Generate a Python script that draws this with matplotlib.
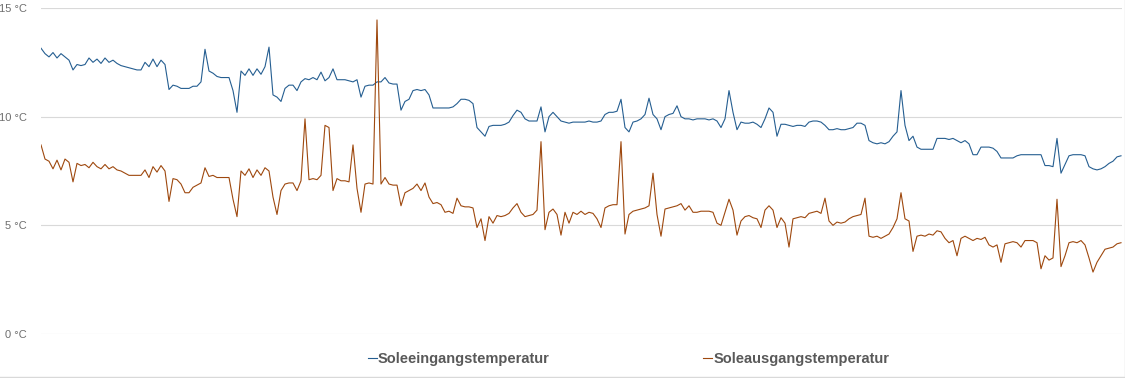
import numpy as np
import matplotlib.pyplot as plt
import matplotlib as mpl
from matplotlib.lines import Line2D

mpl.rcParams['font.family'] = ['Liberation Sans', 'DejaVu Sans']

# brine temperatures, one reading per sample step
soleein = [
    13.15, 12.9, 12.75, 12.95, 12.7, 12.9, 12.75, 12.6, 12.15, 12.4,
    12.35, 12.4, 12.7, 12.5, 12.65, 12.45, 12.7, 12.5, 12.6, 12.45,
    12.35, 12.3, 12.25, 12.2, 12.15, 12.15, 12.5, 12.3, 12.65, 12.3,
    12.6, 12.4, 11.25, 11.45, 11.4, 11.3, 11.3, 11.3, 11.4, 11.4,
    11.6, 13.1, 12.1, 12.0, 11.85, 11.8, 11.8, 11.8, 11.2, 10.2,
    12.1, 11.9, 12.2, 11.9, 12.2, 11.95, 12.3, 13.2, 11.0, 10.9,
    10.7, 11.3, 11.45, 11.45, 11.2, 11.6, 11.75, 11.7, 11.8, 11.7,
    12.05, 11.65, 11.8, 12.2, 11.7, 11.7, 11.7, 11.65, 11.6, 11.7,
    10.9, 11.4, 11.45, 11.45, 11.6, 11.6, 11.8, 11.55, 11.5, 11.5,
    10.3, 10.7, 10.8, 11.2, 11.25, 11.2, 11.25, 11.0, 10.4, 10.4,
    10.4, 10.4, 10.4, 10.45, 10.6, 10.8, 10.8, 10.75, 10.6, 9.5,
    9.3, 9.1, 9.55, 9.6, 9.6, 9.6, 9.65, 9.75, 10.05, 10.3,
    10.2, 9.9, 9.8, 9.8, 9.8, 10.45, 9.3, 10.0, 10.2, 10.0,
    9.8, 9.75, 9.7, 9.75, 9.75, 9.75, 9.75, 9.8, 9.75, 9.75,
    9.8, 10.1, 10.2, 10.2, 10.25, 10.8, 9.5, 9.3, 9.75, 9.8,
    9.9, 10.1, 10.85, 10.1, 9.9, 9.4, 10.0, 10.1, 10.15, 10.5,
    10.0, 9.9, 9.9, 9.85, 9.9, 9.9, 9.9, 9.85, 9.9, 9.8,
    9.5, 9.9, 11.2, 10.2, 9.4, 9.75, 9.7, 9.7, 9.75, 9.65,
    9.5, 9.9, 10.4, 10.2, 9.1, 9.65, 9.65, 9.6, 9.55, 9.6,
    9.6, 9.55, 9.75, 9.8, 9.8, 9.75, 9.6, 9.4, 9.4, 9.45,
    9.4, 9.4, 9.45, 9.5, 9.7, 9.7, 9.6, 8.9, 8.8, 8.75,
    8.8, 8.75, 8.85, 9.1, 9.3, 11.2, 9.6, 8.9, 9.1, 8.6,
    8.5, 8.5, 8.5, 8.5, 9.0, 9.0, 9.0, 8.95, 9.0, 8.9,
    8.8, 8.9, 8.75, 8.25, 8.25, 8.6, 8.6, 8.6, 8.55, 8.4,
    8.1, 8.1, 8.1, 8.1, 8.2, 8.25, 8.25, 8.25, 8.25, 8.25,
    8.25, 7.75, 7.75, 7.7, 9.0, 7.4, 7.8, 8.2, 8.25, 8.25,
    8.25, 8.2, 7.7, 7.6, 7.55, 7.6, 7.7, 7.85, 7.95, 8.15,
    8.2,
]

soleaus = [
    8.7, 8.05, 7.95, 7.6, 8.0, 7.55, 8.05, 7.9, 7.0, 7.85,
    7.75, 7.8, 7.65, 7.9, 7.7, 7.6, 7.8, 7.6, 7.7, 7.55,
    7.5, 7.4, 7.3, 7.3, 7.3, 7.3, 7.55, 7.2, 7.7, 7.45,
    7.75, 7.5, 6.1, 7.15, 7.1, 6.9, 6.5, 6.5, 6.75, 6.85,
    6.95, 7.65, 7.25, 7.3, 7.2, 7.2, 7.2, 7.2, 6.2, 5.4,
    7.5, 7.3, 7.6, 7.2, 7.55, 7.3, 7.65, 7.5, 6.3, 5.5,
    6.6, 6.9, 6.95, 6.95, 6.6, 7.05, 9.9, 7.1, 7.15, 7.1,
    7.3, 9.6, 9.5, 6.6, 7.15, 7.05, 7.05, 7.0, 8.7, 6.7,
    5.6, 6.9, 6.95, 6.9, 14.45, 6.9, 7.2, 6.9, 6.85, 6.85,
    5.9, 6.5, 6.6, 6.7, 6.9, 6.6, 6.95, 6.3, 6.0, 6.05,
    5.95, 5.6, 5.65, 5.55, 6.25, 5.9, 5.85, 5.85, 5.8, 4.9,
    5.3, 4.3, 5.4, 5.1, 5.45, 5.4, 5.45, 5.55, 5.8, 6.0,
    5.6, 5.4, 5.45, 5.5, 5.7, 8.85, 4.8, 5.6, 5.75, 5.5,
    4.55, 5.6, 5.1, 5.6, 5.5, 5.65, 5.5, 5.6, 5.55, 5.3,
    4.9, 5.8, 5.9, 5.95, 5.95, 8.85, 4.6, 5.5, 5.65, 5.7,
    5.75, 5.8, 5.9, 7.4, 5.5, 4.5, 5.75, 5.8, 5.85, 5.9,
    6.0, 5.7, 5.9, 5.6, 5.6, 5.65, 5.65, 5.65, 5.6, 5.1,
    5.0, 5.6, 6.2, 5.7, 4.55, 5.2, 5.4, 5.45, 5.35, 5.3,
    4.9, 5.7, 5.9, 5.7, 4.9, 5.35, 5.1, 4.0, 5.3, 5.35,
    5.4, 5.35, 5.55, 5.6, 5.65, 5.55, 6.25, 5.2, 5.0, 5.15,
    5.1, 5.15, 5.3, 5.4, 5.45, 5.5, 6.25, 4.5, 4.45, 4.5,
    4.4, 4.5, 4.6, 4.9, 5.3, 6.5, 5.3, 5.2, 3.8, 4.5,
    4.55, 4.5, 4.6, 4.55, 4.75, 4.7, 4.4, 4.2, 4.3, 3.6,
    4.4, 4.5, 4.4, 4.3, 4.4, 4.35, 4.45, 4.1, 4.0, 4.1,
    3.3, 4.15, 4.2, 4.25, 4.2, 4.0, 4.3, 4.3, 4.3, 4.2,
    3.0, 3.6, 3.4, 3.5, 6.2, 3.1, 3.6, 4.2, 4.25, 4.2,
    4.3, 4.1, 3.5, 2.85, 3.3, 3.6, 3.9, 3.95, 4.0, 4.15,
    4.2,
]

yticks = [0, 5, 10, 15]
ylabels = ['0 °C', '5 °C', '10 °C', '15 °C']

blue = '#255e91'
orange = '#9e480e'
grey = '#595959'

fig = plt.figure(figsize=(11.25, 3.78), dpi=100)
ax = fig.add_axes([41 / 1125, 1 - 334 / 378, 1081 / 1125, 326 / 378])

x = np.arange(len(soleein))
ax.plot(x, soleein, color=blue, lw=0.8, label='Soleeingangstemperatur')
ax.plot(x, soleaus, color=orange, lw=0.8, label='Soleausgangstemperatur')

ax.set_xlim(0, len(soleein) - 0.75)
ax.set_ylim(0, 15)
ax.set_yticks(yticks)
ax.set_yticklabels(ylabels, color='#6e6e6e', fontsize=8)
ax.set_xticks([])
ax.tick_params(axis='y', length=0, pad=10)
ax.grid(axis='y', color='#d9d9d9', lw=0.8)
ax.set_axisbelow(True)
for s in ax.spines.values():
    s.set_visible(False)

handles = [Line2D([], [], color=blue, lw=0.8), Line2D([], [], color=orange, lw=0.8)]
leg = fig.legend(handles, ['Soleeingangstemperatur', 'Soleausgangstemperatur'],
                 loc='center', bbox_to_anchor=(628.5 / 1125, 1 - 359 / 378),
                 ncol=2, frameon=False, handlelength=0.6, handletextpad=0.1,
                 columnspacing=10.5, prop={'weight': 'bold', 'size': 10.5})
for t in leg.get_texts():
    t.set_color(grey)

# thin frame around chart area (right and bottom visible in the original)
fig.add_artist(Line2D([0, 1124.5 / 1125], [1.5 / 378, 1.5 / 378], color='#d9d9d9', lw=1))
fig.add_artist(Line2D([1124.5 / 1125, 1124.5 / 1125], [1.5 / 378, 1], color='#d9d9d9', lw=1))

plt.savefig('out.png', dpi=100)
